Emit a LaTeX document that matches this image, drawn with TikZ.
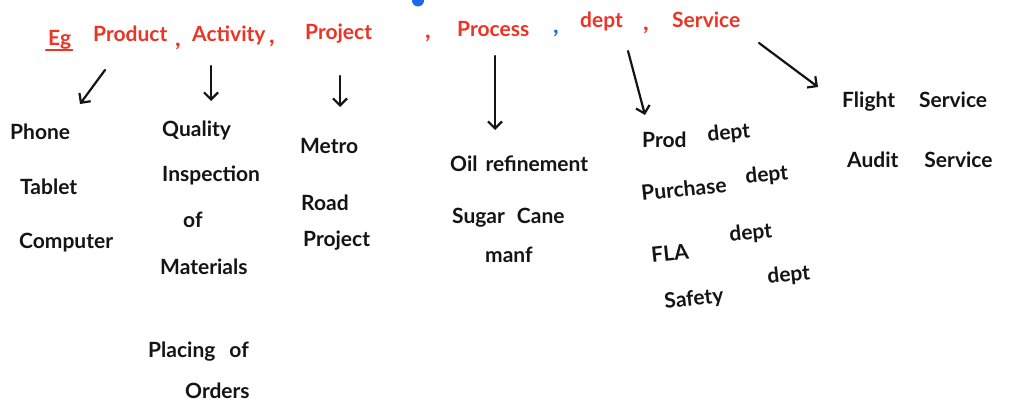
\documentclass[tikz,border=0pt]{standalone}
\usepackage{fontspec}
\setmainfont{Lato}
\usetikzlibrary{arrows.meta}
\definecolor{ink}{RGB}{20,20,20}
\definecolor{redink}{RGB}{236,52,36}
\definecolor{blueink}{RGB}{28,104,232}
\newcommand{\gap}[1]{\hspace{#1pt}}
\begin{document}
\begin{tikzpicture}[x=1pt,y=1pt,
  head/.style={text=redink,font=\fontsize{21}{24}\selectfont\bfseries,inner sep=0pt,anchor=base west},
  item/.style={text=ink,font=\fontsize{21}{24}\selectfont\bfseries,inner sep=0pt,anchor=base west},
  comma/.style={text=redink,font=\fontsize{24}{26}\selectfont\bfseries,inner sep=0pt,anchor=base},
  arr/.style={draw=ink,line width=2.2pt,line cap=round,
    -{Straight Barb[length=7pt,width=14pt,line width=2.2pt]}}]
\useasboundingbox (0,0) rectangle (1026,-406);

% category headings
\node[head] (eg) at (48,-46) {Eg};
\draw[redink,line width=2.2pt,line cap=round] ([xshift=-2pt,yshift=-4pt]eg.base west) -- ([xshift=1pt,yshift=-4pt]eg.base east);
\node[head] (product) at (93,-42) {Product};
\node[comma] (c1) at (178,-47) {,};
\node[head] (activity) at (192,-42) {Activity};
\node[comma] (c2) at (272,-44) {,};
\node[head] (project) at (305,-40) {Project};
\node[comma] (c3) at (428,-39) {,};
\node[head] (process) at (457,-37) {Process};
\node[comma,text=blueink] (c4) at (556,-34) {,};
\node[head] (dept) at (580,-28) {dept};
\node[comma] (c5) at (646,-31) {,};
\node[head] (service) at (672,-28) {Service};
\fill[blueink] (418,-0.5) circle (6) coordinate (dot);

% arrow end points
\coordinate (a1s) at (105,-70);  \coordinate (a1e) at (80,-104);
\coordinate (a2s) at (211,-66);  \coordinate (a2e) at (211,-101);
\coordinate (a3s) at (340,-76);  \coordinate (a3e) at (340,-107);
\coordinate (a4s) at (495,-56);  \coordinate (a4e) at (495,-130);
\coordinate (a5s) at (628,-51);  \coordinate (a5e) at (645,-115);
\coordinate (a6s) at (759,-43);  \coordinate (a6e) at (818,-87);
\foreach \s/\e in {a1s/a1e,a2s/a2e,a3s/a3e,a4s/a4e,a5s/a5e,a6s/a6e}
  \draw[arr] (\s) -- (\e);

% products
\node[item] (phone) at (10,-140) {Phone};
\node[item] (tablet) at (20,-195) {Tablet};
\node[item] (computer) at (19,-249) {Computer};

% activities
\node[item] (quality) at (162,-137) {Quality};
\node[item] (inspection) at (162,-182) {Inspection};
\node[item] (of) at (183,-228) {of};
\node[item] (materials) at (160,-275) {Materials};
\node[item] (placing) at (148,-357) {Placing\gap{14}of};
\node[item] (orders) at (185,-398) {Orders};

% projects
\node[item] (metro) at (300,-154) {Metro};
\node[item] (road) at (301,-211) {Road};
\node[item] (roadproj) at (303,-247) {Project};

% processes
\node[item] (oil) at (450,-172) {Oil\gap{8}refinement};
\node[item] (sugar) at (452,-224) {Sugar\gap{12}Cane};
\node[item] (manf) at (485,-262) {manf};

% departments
\node[item] (prod) at (642,-148) {Prod};
\node[item,rotate=6] (proddept) at (708,-142) {dept};
\node[item,rotate=6] (purchase) at (642,-201) {Purchase};
\node[item,rotate=6] (purchdept) at (746,-184) {dept};
\node[item,rotate=6] (fla) at (652,-263) {FLA};
\node[item,rotate=6] (fladept) at (730,-242) {dept};
\node[item,rotate=6] (safety) at (665,-309) {Safety};
\node[item,rotate=6] (safedept) at (768,-284) {dept};

% services
\node[item] (flight) at (842,-108) {Flight\gap{24}Service};
\node[item] (audit) at (847,-168) {Audit\gap{26}Service};
\end{tikzpicture}
\end{document}
